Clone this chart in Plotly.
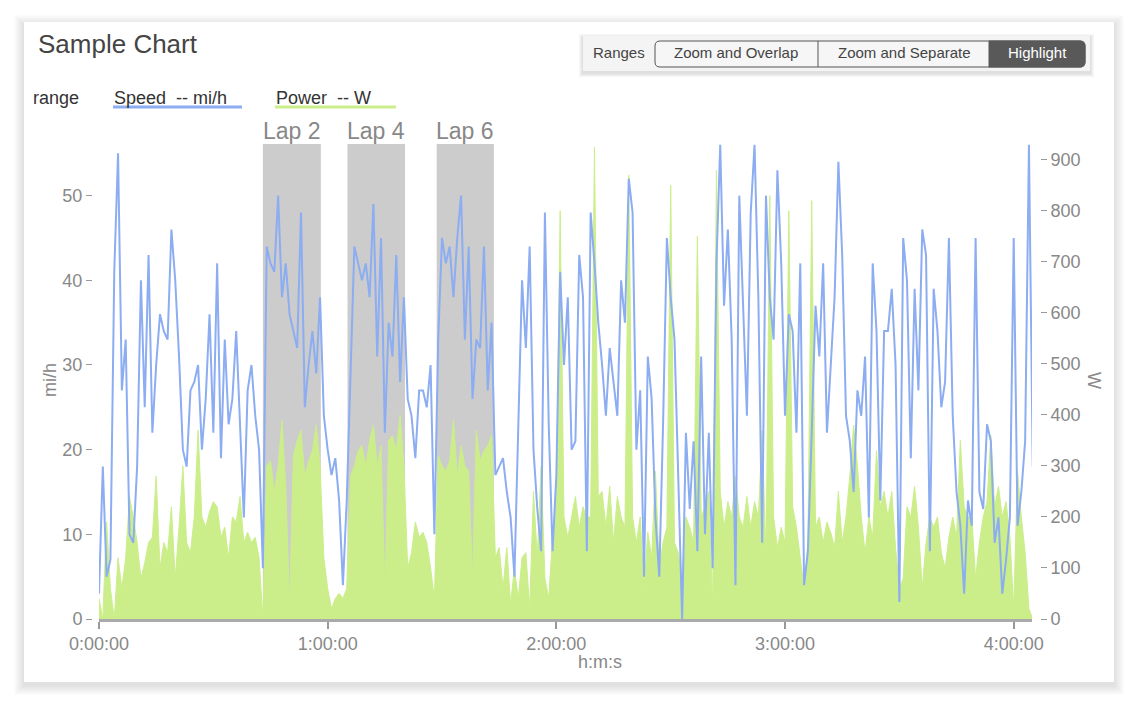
import plotly.graph_objects as go

# one sample per minute of the ride
MINUTES = list(range(246))

SPEED_MPH = [
    3, 18, 5, 7, 41, 55, 27, 33, 10, 9,
    18, 40, 25, 43, 22, 30, 36, 34, 33, 46,
    40, 31, 20, 18, 27, 28, 30, 20, 26, 36,
    22, 42, 19, 33, 23, 26, 34, 22, 12, 27,
    30, 24, 20, 6, 44, 42, 41, 50, 38, 42,
    36, 34, 32, 48, 25, 30, 34, 29, 38, 24,
    20, 17, 19, 14, 4, 14, 30, 44, 42, 40,
    42, 38, 49, 31, 45, 22, 35, 31, 43, 28,
    38, 26, 24, 19, 27, 27, 25, 30, 10, 33,
    45, 42, 44, 38, 45, 50, 33, 44, 26, 33,
    32, 44, 27, 35, 17, 18, 19, 15, 12, 5,
    24, 40, 32, 44, 20, 13, 8, 48, 23, 8,
    17, 41, 30, 38, 20, 21, 43, 38, 8, 48,
    42, 35, 30, 24, 32, 28, 24, 40, 35, 52,
    48, 20, 27, 5, 31, 26, 12, 5, 23, 45,
    38, 33, 17, 0, 22, 13, 21, 8, 31, 10,
    22, 6, 42, 56, 37, 46, 33, 4, 50, 38,
    24, 48, 56, 38, 9, 50, 38, 33, 53, 42,
    24, 36, 34, 22, 42, 4, 8, 22, 37, 31,
    42, 22, 30, 38, 54, 43, 24, 21, 15, 27,
    24, 31, 12, 42, 34, 14, 34, 34, 39, 30,
    2, 45, 40, 19, 39, 27, 46, 43, 8, 39,
    34, 25, 28, 45, 24, 15, 11, 3, 14, 11,
    45, 15, 13, 23, 21, 9, 12, 3, 7, 12,
    45, 11, 15, 21, 56, 18,
]

POWER_W = [
    40, 0, 190, 60, 0, 120, 60, 120, 240, 200,
    150, 80, 110, 150, 160, 280, 100, 150, 130, 220,
    80, 180, 300, 150, 130, 200, 370, 200, 180, 210,
    230, 220, 160, 180, 120, 200, 190, 240, 150, 170,
    150, 160, 120, 0, 300, 310, 250, 300, 390, 260,
    30, 320, 350, 370, 280, 310, 330, 380, 300, 120,
    60, 20, 40, 50, 40, 60, 280, 300, 330, 340,
    300, 350, 380, 300, 340, 60, 350, 360, 330, 400,
    300, 100, 130, 190, 160, 170, 150, 100, 40, 320,
    300, 290, 310, 390, 280, 340, 300, 290, 80, 370,
    310, 330, 340, 360, 120, 140, 60, 140, 30, 100,
    40, 120, 130, 20, 250, 120, 300, 80, 40, 160,
    240, 800, 200, 160, 200, 240, 180, 220, 200, 200,
    925, 240, 250, 180, 260, 150, 240, 200, 180, 870,
    200, 150, 200, 60, 170, 120, 290, 100, 150, 180,
    850, 150, 130, 80, 200, 180, 150, 750, 200, 220,
    250, 20, 880, 250, 180, 230, 200, 280, 200, 180,
    240, 180, 230, 200, 370, 120, 830, 200, 140, 180,
    150, 800, 220, 180, 120, 60, 150, 820, 180, 200,
    150, 190, 170, 140, 250, 150, 200, 280, 380, 300,
    200, 130, 200, 160, 330, 220, 250, 200, 250, 140,
    60, 80, 220, 200, 260, 180, 60, 150, 200, 180,
    200, 130, 100, 160, 200, 160, 350, 220, 200, 200,
    80, 150, 200, 230, 360, 220, 260, 200, 230, 160,
    20, 290, 200, 130, 20, 0,
]

LAP_NAMES = ["Lap 2", "Lap 4", "Lap 6"]
LAP_START = [43.0, 65.2, 88.6]
LAP_END = [58.2, 80.3, 103.6]

TICK_MIN = [0, 60, 120, 180, 240]
TICK_TEXT = ["0:00:00", "1:00:00", "2:00:00", "3:00:00", "4:00:00"]
SPEED_TICKS = [0, 10, 20, 30, 40, 50]
POWER_TICKS = [0, 100, 200, 300, 400, 500, 600, 700, 800, 900]

BUTTONS = ["Zoom and Overlap", "Zoom and Separate", "Highlight"]

BLUE = "#8cadf2"
GREEN = "#cbee8a"
FONT = "Liberation Sans, Arial, Helvetica, sans-serif"

# the page body adds an 8px margin, so the figure is a bit smaller than the
# window and positions below are given in screen pixels
OFF = 8
W, H = 1127, 699
ML, MR, MT, MB = 84, 95, 136, 88
PW, PH = W - ML - MR, H - MT - MB


def px(x):
    return (x - OFF - ML) / PW


def py(y):
    return (H - MB - (y - OFF)) / PH


def rpath(x0, y0, x1, y1, rl, rr):
    """rounded box path in paper coords, rl/rr = left/right corner radius (px)"""
    pts = [
        f"M{px(x0 + rl)},{py(y0)}",
        f"L{px(x1 - rr)},{py(y0)}",
        f"Q{px(x1)},{py(y0)} {px(x1)},{py(y0 + rr)}",
        f"L{px(x1)},{py(y1 - rr)}",
        f"Q{px(x1)},{py(y1)} {px(x1 - rr)},{py(y1)}",
        f"L{px(x0 + rl)},{py(y1)}",
        f"Q{px(x0)},{py(y1)} {px(x0)},{py(y1 - rl)}",
        f"L{px(x0)},{py(y0 + rl)}",
        f"Q{px(x0)},{py(y0)} {px(x0 + rl)},{py(y0)}",
        "Z",
    ]
    return " ".join(pts)


fig = go.Figure()

# power on the main (right) axis so that speed is drawn over it
fig.add_trace(go.Scatter(
    x=MINUTES, y=POWER_W, name="Power", yaxis="y",
    mode="lines", line=dict(color=GREEN, width=1),
    fill="tozeroy", fillcolor=GREEN,
))
fig.add_trace(go.Scatter(
    x=MINUTES, y=SPEED_MPH, name="Speed", yaxis="y2",
    mode="lines", line=dict(color=BLUE, width=2),
))

shapes = []
# card shadow + card
for i in range(1, 11):
    shapes.append(dict(
        type="rect", xref="paper", yref="paper", layer="below",
        x0=px(24 - i), x1=px(1114 + i), y0=py(682 + i + 3), y1=py(22 - i + 3),
        fillcolor="rgba(0,0,0,0.013)", line_width=0,
    ))
shapes.append(dict(
    type="rect", xref="paper", yref="paper", layer="below",
    x0=px(24), x1=px(1114), y0=py(682), y1=py(22),
    fillcolor="white", line_width=0,
))

# lap highlight bands
for s, e in zip(LAP_START, LAP_END):
    shapes.append(dict(
        type="rect", xref="x", yref="paper", layer="below",
        x0=s, x1=e, y0=0, y1=1, fillcolor="#cccccc", line_width=0,
    ))

# range selector box
for i in range(1, 5):
    shapes.append(dict(
        type="rect", xref="paper", yref="paper",
        x0=px(583 - i), x1=px(1090 + i), y0=py(71 + i + 2), y1=py(36 - i + 2),
        fillcolor="rgba(0,0,0,0.03)", line_width=0,
    ))
shapes.append(dict(
    type="rect", xref="paper", yref="paper",
    x0=px(583), x1=px(1090), y0=py(71), y1=py(36),
    fillcolor="#f4f4f4", line_width=0,
))
shapes.append(dict(
    type="path", xref="paper", yref="paper",
    path=rpath(655, 41, 1085, 67, 5, 5),
    fillcolor="#f6f6f6", line=dict(color="#555555", width=1),
))
shapes.append(dict(
    type="path", xref="paper", yref="paper",
    path=rpath(989, 41, 1085, 67, 0, 5),
    fillcolor="#595959", line=dict(color="#595959", width=1),
))
shapes.append(dict(
    type="line", xref="paper", yref="paper",
    x0=px(818), x1=px(818), y0=py(41), y1=py(67),
    line=dict(color="#555555", width=1),
))

# legend underlines
shapes.append(dict(
    type="line", xref="paper", yref="paper",
    x0=px(113), x1=px(242), y0=py(107), y1=py(107),
    line=dict(color=BLUE, width=3),
))
shapes.append(dict(
    type="line", xref="paper", yref="paper",
    x0=px(275), x1=px(396), y0=py(107), y1=py(107),
    line=dict(color=GREEN, width=3),
))

annotations = []


def label(text, x, y, size, color, xanchor="left", angle=0):
    annotations.append(dict(
        text=text, xref="paper", yref="paper", x=px(x), y=py(y),
        xanchor=xanchor, yanchor="middle", showarrow=False, textangle=angle,
        font=dict(family=FONT, size=size, color=color),
    ))


label("Sample Chart", 36, 44, 26, "#444444")
label("range", 31, 98, 18, "#333333")
label("Speed\u00a0\u00a0-- mi/h", 112, 98, 18, "#333333")
label("Power\u00a0\u00a0-- W", 274, 98, 18, "#333333")
label("Ranges", 591, 53, 15, "#444444")
for name, cx in zip(BUTTONS, [736, 904, 1037]):
    label(name, cx, 53, 15, "white" if name == "Highlight" else "#444444", "center")
for name, s, e in zip(LAP_NAMES, LAP_START, LAP_END):
    annotations.append(dict(
        text=name, xref="x", yref="paper", x=(s + e) / 2, y=py(131),
        xanchor="center", yanchor="middle", showarrow=False,
        font=dict(family=FONT, size=23, color="#888888"),
    ))
label("mi/h", 50, 380, 18, "#888888", "center", -90)
label("W", 1094, 380, 18, "#888888", "center", 90)
label("h:m:s", 600, 662, 18, "#888888", "center")

tick_font = dict(family=FONT, size=18, color="#888888")

fig.update_layout(
    width=W, height=H,
    margin=dict(l=ML, r=MR, t=MT, b=MB, pad=0),
    paper_bgcolor="white",
    plot_bgcolor="rgba(0,0,0,0)",
    showlegend=False,
    font=dict(family=FONT),
    shapes=shapes,
    annotations=annotations,
    xaxis=dict(
        domain=[px(99), px(1032)], range=[0, 244.8],
        tickvals=TICK_MIN, ticktext=TICK_TEXT, tickfont=tick_font,
        ticks="outside", ticklen=7, tickcolor="#999999", tickwidth=1.5,
        showline=True, linecolor="#aaaaaa", linewidth=2.5,
        showgrid=False, zeroline=False, anchor="y",
    ),
    yaxis=dict(
        range=[0, 931], side="right", anchor="free", position=1,
        tickvals=POWER_TICKS, tickfont=tick_font,
        ticks="outside", ticklen=6, tickcolor="#999999",
        showline=False, showgrid=False, zeroline=False,
    ),
    yaxis2=dict(
        range=[0, 56.1], side="left", anchor="free", position=0,
        overlaying="y",
        tickvals=SPEED_TICKS, tickfont=tick_font,
        ticks="outside", ticklen=6, tickcolor="#999999",
        showline=False, showgrid=False, zeroline=False,
    ),
)

fig.write_html("out.html")
